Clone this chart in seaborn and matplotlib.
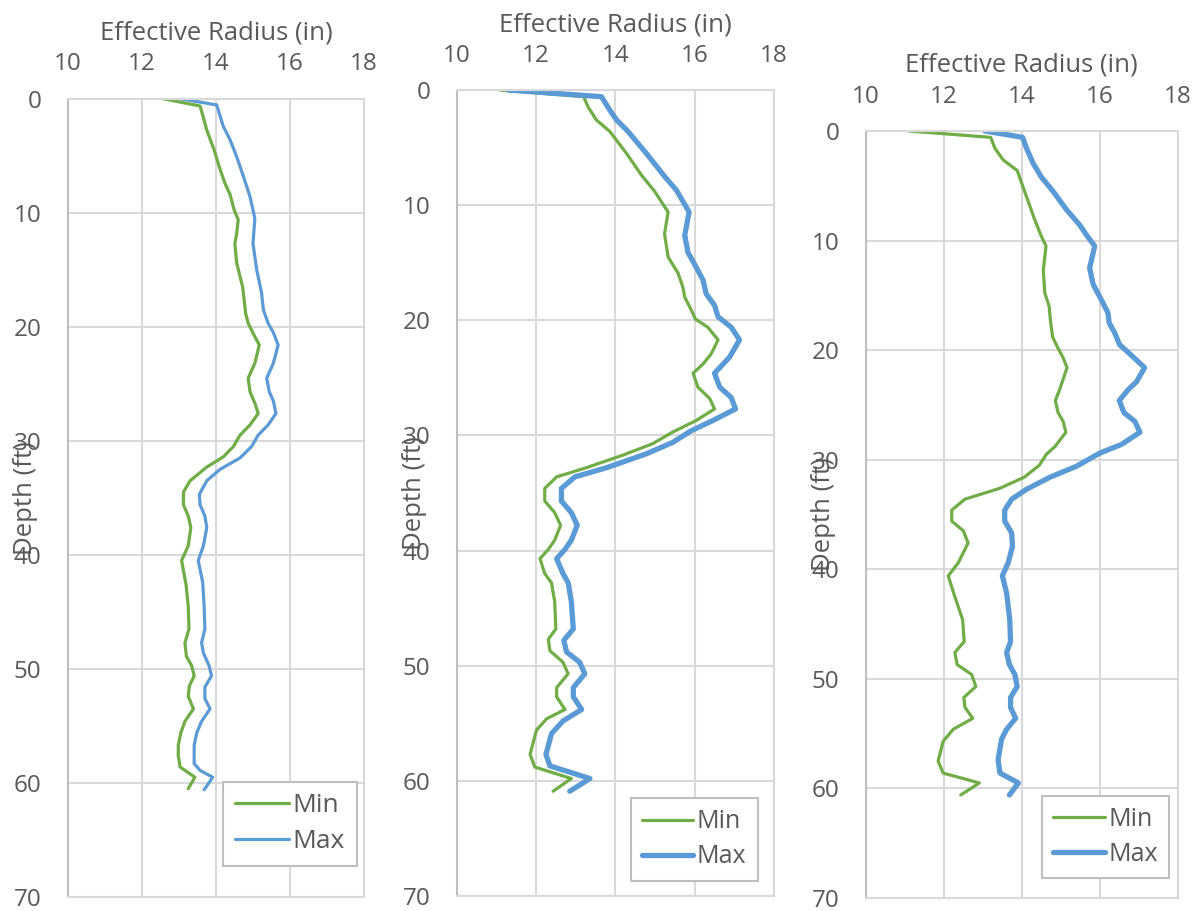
import matplotlib
matplotlib.use("Agg")
import matplotlib.pyplot as plt
import seaborn as sns

# ---------------------------------------------------------------------------
# Data (depth in ft, effective radius in inches)
# ---------------------------------------------------------------------------

P1_MIN_DEPTH = [0, 0.64, 1.43, 2.74, 4.5, 6.1, 7.4, 8.4, 9.75, 10.6, 11.8, 12.7, 14.4, 15.6,
                16.5, 17.6, 18.8, 19.7, 20.8, 21.6, 23.2, 24.5, 25.7, 26.7, 27.6, 28.6, 29.5,
                30.5, 31.4, 32.3, 33.5, 34.5, 35.6, 36.6, 37.6, 39.2, 40.5, 42.6, 44.5, 46.5,
                47.7, 48.9, 49.7, 50.6, 51.5, 52.4, 53.5, 54.6, 55.6, 56.7, 57.6, 58.6, 59.5,
                60.5]
P1_MIN = [12.57, 13.57, 13.64, 13.75, 13.95, 14.1, 14.24, 14.38, 14.49, 14.6, 14.56, 14.51,
          14.56, 14.65, 14.72, 14.76, 14.8, 14.87, 15.04, 15.17, 15.05, 14.87, 14.92, 15.05,
          15.14, 14.92, 14.65, 14.47, 14.2, 13.75, 13.3, 13.12, 13.12, 13.25, 13.32, 13.25,
          13.07, 13.19, 13.25, 13.27, 13.16, 13.2, 13.34, 13.41, 13.28, 13.25, 13.39, 13.16,
          13.05, 12.98, 12.98, 13.03, 13.43, 13.25]

P1_MAX_DEPTH = [0, 0.55, 1.3, 2.45, 3.6, 5.1, 6.8, 8.6, 10.5, 12.7, 15.0, 17.0, 18.5, 19.7,
                20.5, 21.6, 23.2, 24.5, 25.7, 26.5, 27.6, 28.6, 29.5, 30.5, 31.5, 32.5, 33.5,
                34.7, 35.6, 36.6, 37.6, 39.2, 40.5, 42.4, 44.5, 46.5, 47.7, 48.6, 49.7, 50.6,
                51.6, 52.6, 53.5, 54.6, 55.6, 56.7, 58.3, 58.9, 59.5, 60.6]
P1_MAX = [13.03, 14.02, 14.09, 14.2, 14.38, 14.56, 14.74, 14.92, 15.05, 15.0, 15.1, 15.23,
          15.28, 15.41, 15.55, 15.68, 15.55, 15.37, 15.44, 15.55, 15.62, 15.41, 15.14, 14.96,
          14.65, 14.11, 13.75, 13.55, 13.57, 13.7, 13.75, 13.66, 13.52, 13.64, 13.68, 13.7,
          13.61, 13.66, 13.81, 13.88, 13.7, 13.7, 13.84, 13.61, 13.48, 13.41, 13.41, 13.57,
          13.91, 13.68]

P2_MIN_DEPTH = [0, 0.58, 1.45, 2.6, 3.6, 5.5, 7.4, 8.8, 10.6, 12.5, 14.5, 15.9, 17.1, 18.0,
                18.8, 19.9, 20.6, 21.7, 22.9, 23.8, 24.6, 25.8, 26.8, 27.7, 28.7, 29.7, 30.7,
                31.7, 32.8, 33.6, 34.6, 35.7, 36.7, 37.8, 39.1, 39.9, 40.7, 42.0, 42.8, 44.4,
                46.8, 47.7, 48.7, 49.7, 50.7, 51.9, 52.7, 53.8, 54.6, 55.6, 57.7, 58.8, 59.8,
                60.9]
P2_MIN = [11.09, 13.2, 13.31, 13.52, 13.86, 14.28, 14.66, 14.99, 15.33, 15.24, 15.33, 15.58,
          15.7, 15.75, 15.87, 16.02, 16.33, 16.59, 16.42, 16.21, 15.96, 16.08, 16.38, 16.5,
          16.04, 15.45, 14.95, 14.2, 13.27, 12.52, 12.22, 12.22, 12.47, 12.62, 12.47, 12.31,
          12.1, 12.22, 12.39, 12.47, 12.5, 12.31, 12.35, 12.68, 12.81, 12.52, 12.52, 12.73,
          12.27, 12.01, 11.85, 11.97, 12.89, 12.43]

P2_MAX_DEPTH = [0, 0.58, 1.74, 2.6, 3.6, 5.5, 7.5, 8.7, 10.6, 12.6, 14.1, 15.4, 16.5, 17.7,
                18.7, 19.7, 20.6, 21.7, 23.2, 24.6, 25.8, 26.7, 27.7, 28.7, 29.6, 30.6, 31.6,
                32.8, 33.6, 34.6, 35.7, 36.7, 37.8, 39.1, 39.9, 40.7, 42.0, 42.8, 44.4, 46.8,
                47.8, 48.8, 49.7, 50.7, 51.9, 52.7, 53.8, 54.8, 55.9, 57.7, 58.7, 59.8, 60.9]
P2_MAX = [11.3, 13.65, 13.86, 14.03, 14.32, 14.78, 15.24, 15.54, 15.86, 15.75, 15.83, 16.04,
          16.21, 16.29, 16.5, 16.59, 16.92, 17.13, 16.88, 16.5, 16.63, 16.92, 17.03, 16.46,
          15.91, 15.45, 14.78, 13.78, 12.98, 12.64, 12.64, 12.89, 13.04, 12.89, 12.73, 12.52,
          12.68, 12.81, 12.89, 12.94, 12.7, 12.77, 13.1, 13.23, 12.94, 12.94, 13.15, 12.68,
          12.39, 12.25, 12.35, 13.36, 12.85]

P3_MIN_DEPTH = [0, 0.58, 1.58, 2.64, 3.6, 6.0, 8.1, 9.6, 10.5, 12.7, 14.8, 16.0, 17.5, 18.8,
                19.7, 20.7, 21.6, 23.6, 24.6, 25.7, 26.5, 27.5, 28.8, 29.5, 30.5, 31.6, 32.6,
                33.6, 34.6, 35.6, 36.5, 37.6, 39.4, 40.6, 42.5, 44.6, 46.6, 47.6, 48.7, 49.6,
                50.7, 51.7, 52.6, 53.6, 54.6, 55.7, 57.5, 58.6, 59.5, 60.6]
P3_MIN = [11.1, 13.2, 13.31, 13.52, 13.88, 14.12, 14.33, 14.5, 14.62, 14.55, 14.59, 14.7,
          14.74, 14.79, 14.91, 15.06, 15.16, 14.97, 14.86, 14.93, 15.06, 15.13, 14.85, 14.63,
          14.45, 14.06, 13.44, 12.54, 12.2, 12.2, 12.5, 12.62, 12.37, 12.11, 12.28, 12.48,
          12.52, 12.28, 12.34, 12.71, 12.82, 12.51, 12.54, 12.74, 12.24, 11.98, 11.85, 11.98,
          12.91, 12.43]

P3_MAX_DEPTH = [0, 0.58, 1.58, 2.95, 4.2, 5.5, 7.2, 8.6, 9.5, 10.5, 12.5, 14.0, 15.4, 16.6,
                17.5, 18.4, 19.5, 20.6, 21.6, 22.9, 23.6, 24.6, 25.7, 26.5, 27.5, 28.6, 29.4,
                30.6, 31.6, 32.7, 33.6, 34.6, 35.6, 36.7, 37.9, 39.4, 40.6, 42.2, 44.6, 46.6,
                47.6, 48.7, 49.6, 50.7, 51.7, 52.6, 53.6, 54.6, 55.5, 57.4, 58.6, 59.5, 60.6]
P3_MAX = [13.05, 14.02, 14.12, 14.29, 14.5, 14.8, 15.15, 15.49, 15.66, 15.87, 15.74, 15.83,
          16.04, 16.21, 16.24, 16.38, 16.51, 16.85, 17.15, 16.94, 16.73, 16.5, 16.62, 16.9,
          17.03, 16.56, 16.0, 15.4, 14.72, 14.12, 13.74, 13.56, 13.56, 13.74, 13.76, 13.65,
          13.5, 13.61, 13.69, 13.71, 13.61, 13.68, 13.82, 13.88, 13.71, 13.71, 13.84, 13.61,
          13.48, 13.39, 13.44, 13.91, 13.68]

X_TICKS = [10, 12, 14, 16, 18]
Y_TICKS = [0, 10, 20, 30, 40, 50, 60, 70]

# ---------------------------------------------------------------------------
# Styling
# ---------------------------------------------------------------------------

GREEN = "#70AD47"
BLUE = "#5B9BD5"
GRID = "#D9D9D9"
AXIS = "#BFBFBF"
TEXT = "#595959"

W, H = 1200, 911

sns.set_theme(style="white")
plt.rcParams["font.family"] = ["Open Sans", "DejaVu Sans"]

fig = plt.figure(figsize=(W / 100, H / 100), dpi=100)

# panel boxes in pixels: left, top, right, bottom
panels = [
    dict(box=(68, 98.7, 364, 897), mn=(P1_MIN_DEPTH, P1_MIN), mx=(P1_MAX_DEPTH, P1_MAX),
         lw=(2.3, 2.3), leg=(0.976, 0.039), leg_fs=19),
    dict(box=(456.7, 90, 774, 896), mn=(P2_MIN_DEPTH, P2_MIN), mx=(P2_MAX_DEPTH, P2_MAX),
         lw=(2.3, 3.8), leg=(0.949, 0.019), leg_fs=18),
    dict(box=(866, 131, 1177.7, 898), mn=(P3_MIN_DEPTH, P3_MIN), mx=(P3_MAX_DEPTH, P3_MAX),
         lw=(2.3, 3.8), leg=(0.973, 0.026), leg_fs=18),
]

for p in panels:
    l, t, r, b = p["box"]
    ax = fig.add_axes([l / W, 1 - b / H, (r - l) / W, (b - t) / H])
    w_px, h_px = r - l, b - t

    sns.lineplot(x=p["mn"][1], y=p["mn"][0], sort=False, estimator=None,
                 color=GREEN, linewidth=p["lw"][0], label="Min", ax=ax)
    sns.lineplot(x=p["mx"][1], y=p["mx"][0], sort=False, estimator=None,
                 color=BLUE, linewidth=p["lw"][1], label="Max", ax=ax)

    ax.set_xlim(10, 18)
    ax.set_ylim(70, 0)
    ax.set_xticks(X_TICKS)
    ax.set_yticks(Y_TICKS)
    ax.xaxis.tick_top()
    ax.xaxis.set_label_position("top")
    ax.set_axisbelow(True)
    ax.grid(True, color=GRID, linewidth=1.5)
    ax.tick_params(axis="x", length=0, labelsize=17.5, labelcolor=TEXT, pad=16)
    ax.tick_params(axis="y", length=0, labelsize=17.5, labelcolor=TEXT, pad=19)

    for side in ["top", "right", "bottom"]:
        ax.spines[side].set_color(GRID)
        ax.spines[side].set_linewidth(1.5)
    ax.spines["left"].set_color(AXIS)
    ax.spines["left"].set_linewidth(1.5)

    ax.set_xlabel("Effective Radius (in)", fontsize=18.5, color=TEXT)
    ax.xaxis.set_label_coords(0.5, 1 + 59 / h_px)
    ax.xaxis.label.set_va("baseline")

    ax.set_ylabel("Depth (ft)", fontsize=18.5, color=TEXT)
    ax.yaxis.set_label_coords(-42 / w_px, 0.5)
    ax.yaxis.label.set_va("center")

    leg = ax.legend(loc="lower right", bbox_to_anchor=p["leg"], fontsize=p["leg_fs"],
                    frameon=True, fancybox=False, framealpha=1, edgecolor=AXIS,
                    borderaxespad=0, handlelength=2.05, handletextpad=0.15,
                    labelspacing=0.4, borderpad=0.45)
    leg.get_frame().set_linewidth(1.5)
    for txt in leg.get_texts():
        txt.set_color(TEXT)

fig.savefig("out.png", dpi=100)
